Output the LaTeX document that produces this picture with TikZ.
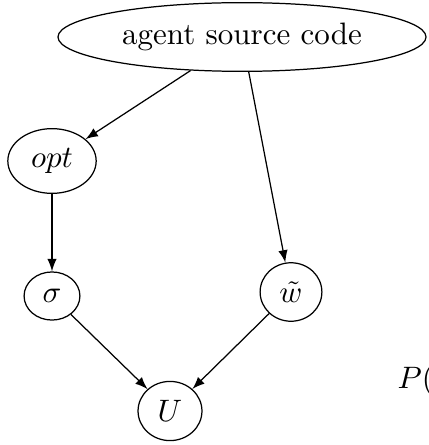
\documentclass[tikz,border=0pt]{standalone}
\usetikzlibrary{shapes.geometric}
\begin{document}
\begin{tikzpicture}[x=0.3226pt,y=-0.3226pt,
  var/.style={draw,ellipse},
  edge/.style={->,>=latex}]
\useasboundingbox (0,0) rectangle (428,445);
\begin{scope}
\clip (0,0) rectangle (428,445);
\node[var] (src) at (242,37) {agent source code};
\node[var] (opt) at (52,161) {$opt$};
\node[var] (sigma) at (52,296) {$\sigma$};
\node[var] (w) at (291,292) {$\tilde{w}$};
\node[var] (U) at (170,411) {$U$};
\node[anchor=base west,inner sep=0pt] (P) at (397,388) {$P($};
\draw[edge] (src) -- (opt);
\draw[edge] (src) -- (w);
\draw[edge] (opt) -- (sigma);
\draw[edge] (sigma) -- (U);
\draw[edge] (w) -- (U);
\end{scope}
\end{tikzpicture}
\end{document}
